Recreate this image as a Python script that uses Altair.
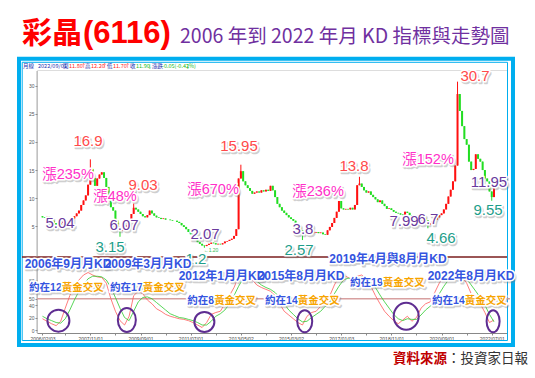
import altair as alt
import pandas as pd

# ---------------- data ----------------
# monthly closes, 2006-02 ... 2022-09 (index 0 .. 199)
close = [
    6.6, 6.5, 6.7, 6.3, 6.0, 5.6, 5.3, 5.3, 5.6, 5.8, 5.7,                 # 2006 Feb-Dec
    5.9, 6.1, 6.4, 6.8, 7.3, 7.8, 8.8, 9.6, 10.5, 12.4, 15.2, 13.6,        # 2007
    12.2, 13.5, 14.2, 14.6, 13.6, 12.0, 10.0, 8.4, 7.8, 6.0, 4.6, 4.2,     # 2008
    4.3, 4.8, 5.2, 6.1, 7.2, 8.3, 8.0, 7.6, 7.2, 6.8, 6.6, 7.0,            # 2009
    7.8, 7.3, 6.9, 6.6, 6.5, 6.3, 6.4, 6.2, 6.2, 6.1, 6.0, 6.0,            # 2010
    5.8, 5.6, 5.2, 4.9, 4.5, 4.0, 3.6, 3.2, 2.8, 2.2, 1.9, 1.6,            # 2011
    1.5, 1.7, 1.9, 2.1, 2.0, 1.8, 1.9, 1.8, 2.0, 2.3, 2.4, 2.6,            # 2012
    2.8, 3.3, 4.5, 13.5, 14.8, 13.0, 12.3, 11.8, 11.3, 10.8, 11.0, 11.2,   # 2013
    11.0, 11.4, 11.2, 11.5, 11.3, 12.2, 11.4, 10.2, 9.0, 8.4, 7.8, 7.4,    # 2014
    7.0, 6.6, 6.3, 6.0, 5.5, 4.9, 4.3, 3.6, 3.8, 3.9, 4.0, 3.8,            # 2015
    3.9, 4.0, 3.8, 3.9, 3.6, 3.5, 4.3, 4.9, 5.6, 6.5, 7.6, 9.5,            # 2016
    8.2, 8.0, 8.1, 8.0, 8.3, 8.0, 8.8, 12.3, 12.6, 12.0, 11.4, 11.0,       # 2017
    11.2, 10.6, 10.2, 9.8, 9.3, 9.6, 9.0, 8.6, 8.1, 8.2, 7.9, 7.6,         # 2018
    7.4, 7.3, 7.1, 7.0, 7.6, 7.4, 7.0, 6.8, 6.9, 7.0, 6.8, 6.6,            # 2019
    6.5, 6.1, 5.3, 5.6, 5.9, 6.2, 6.6, 7.0, 7.3, 8.0, 9.0, 10.3,           # 2020
    11.5, 13.0, 15.8, 28.5, 25.5, 22.8, 20.5, 19.5, 16.5, 15.0, 15.2, 17.8,  # 2021
    17.0, 16.5, 15.0, 13.5, 13.0, 11.2, 10.2, 11.95, 11.9,                 # 2022 Jan-Sep
]
first_open = 6.8
high_marks = {21: 16.9, 40: 9.03, 87: 15.95, 139: 13.8, 182: 30.7}
low_marks = {7: 5.04, 34: 3.15, 71: 1.2, 114: 2.57, 169: 4.66, 197: 9.55}

# monthly KD (K red, D green), every second month
kd_month = list(range(0, 200, 2))
k_vals = [18, 14, 10, 7, 14, 35, 55, 72, 80, 88,
          92, 88, 85, 84, 75, 50, 30, 15, 8, 22,
          55, 62, 58, 48, 42, 34, 30, 25, 22, 20,
          18, 17, 15, 12, 8, 4, 12, 25, 28, 30,
          42, 55, 68, 85, 92, 88, 80, 72, 68, 65,
          62, 55, 42, 30, 24, 18, 12, 8, 22, 28,
          30, 38, 45, 55, 72, 85, 88, 84, 80, 86,
          88, 82, 70, 55, 42, 30, 22, 15, 10, 16,
          22, 14, 20, 35, 42, 45, 60, 75, 85, 90,
          92, 95, 85, 75, 58, 50, 42, 28, 12, 16]
d_vals = [22, 18, 15, 12, 11, 18, 32, 48, 62, 72,
          82, 86, 86, 85, 80, 68, 52, 35, 20, 15,
          30, 45, 52, 53, 50, 44, 38, 32, 26, 23,
          20, 19, 17, 15, 12, 8, 8, 14, 22, 26,
          32, 42, 55, 70, 82, 86, 84, 78, 72, 68,
          65, 60, 52, 42, 32, 25, 18, 13, 14, 20,
          25, 30, 38, 45, 58, 70, 80, 83, 82, 82,
          85, 84, 78, 68, 56, 45, 35, 25, 18, 15,
          18, 17, 17, 24, 32, 38, 45, 58, 70, 80,
          86, 90, 88, 82, 72, 62, 52, 40, 25, 13]

tick_months = [0, 10, 21, 32, 43, 54, 65, 76, 87, 98, 109, 120, 131, 142,
               153, 164, 175, 186, 197]
tick_labels = ["2006/02/03", "2006/12/01", "2007/11/01", "2008/10/01", "2009/09/01",
               "2010/08/02", "2011/07/01", "2012/06/01", "2013/05/02", "2014/04/01",
               "2015/03/02", "2016/02/01", "2017/01/03", "2017/12/01", "2018/11/01",
               "2019/10/01", "2020/09/01", "2021/08/02", "2022/07/01"]
price_ticks = [5, 10, 15, 20, 25, 30]
kd_ticks = [0, 20, 40, 50, 80]

# golden-cross circles: month, KD level, width, height
cross_marks = [(7, 15, 22, 22), (37, 16, 18, 24), (71, 13, 20, 20),
               (115, 14, 15, 22), (159.5, 22, 25, 27), (197.6, 14, 13, 22)]

# ---------------- layout ----------------
OX, OY = 37, 70
W, H = 470, 263
RED_UP = "#FF1010"
GREEN_DN = "#22DD22"
C_RED = "#FF4A4A"
C_PUR = "#6A3A9E"
C_TEAL = "#1E9E8A"
C_PINK = "#FF30C8"
C_BLUE = "#3454E0"
C_ORANGE = "#F7A400"
FRAME = "#00AEEF"

NUMF = "Liberation Sans Narrow, Liberation Sans, Noto Sans CJK TC"
CJKF = "Noto Sans CJK TC"

xs = alt.Scale(domain=[-0.2, 201.5], nice=False, zero=False)
ps = alt.Scale(domain=[-13.94, 32.77], nice=False, zero=False)
ks = alt.Scale(domain=[-4.8, 416], nice=False, zero=False)

label_expr = ("[" + ",".join("'%s'" % s for s in tick_labels) + "][indexof(["
              + ",".join(str(m) for m in tick_months) + "], datum.value)]")
x_axis = alt.Axis(values=tick_months, labelExpr=label_expr, labelFontSize=5,
                  labelColor="#444", tickSize=2, tickColor="#888", domainColor="#888",
                  labelPadding=1, grid=False, title=None, labelAngle=0,
                  labelFont="Liberation Sans")
p_axis = alt.Axis(values=price_ticks, orient="left", domain=False, grid=False,
                  tickSize=2, tickColor="#888", labelFontSize=5, labelColor="#555",
                  labelPadding=1, title=None)
k_axis = alt.Axis(values=kd_ticks, orient="left", domain=False, grid=False,
                  tickSize=2, tickColor="#888", labelFontSize=5, labelColor="#555",
                  labelPadding=1, title=None)

# ---------------- candles ----------------
opens = [first_open] + close[:-1]
rows = []
for i, (o, c) in enumerate(zip(opens, close)):
    rows.append(dict(i=i, o=o, c=c,
                     h=high_marks.get(i, max(o, c)),
                     l=low_marks.get(i, min(o, c)),
                     col=RED_UP if c >= o else GREEN_DN))
cdf = pd.DataFrame(rows)

wick = alt.Chart(cdf).mark_rule(strokeWidth=1).encode(
    x=alt.X("i:Q", scale=xs, axis=x_axis),
    y=alt.Y("l:Q", scale=ps, axis=p_axis),
    y2="h:Q",
    color=alt.Color("col:N", scale=None))
body = alt.Chart(cdf).mark_bar(size=2).encode(
    x=alt.X("i:Q", scale=xs, axis=x_axis),
    y=alt.Y("o:Q", scale=ps, axis=p_axis),
    y2="c:Q",
    color=alt.Color("col:N", scale=None))
price = alt.layer(wick, body)

# ---------------- KD ----------------
kdf = pd.DataFrame({"i": kd_month, "K": k_vals, "D": d_vals})
one = pd.DataFrame({"a": [0]})
mid = alt.Chart(one).mark_rule(color="#D8A0A0", strokeWidth=1.6).encode(
    y=alt.Y(datum=50, scale=ks, axis=k_axis), x=alt.value(0), x2=alt.value(W + 3))
kline = alt.Chart(kdf).mark_line(color="#FF5A5A", strokeWidth=0.8).encode(
    x=alt.X("i:Q", scale=xs, axis=x_axis), y=alt.Y("K:Q", scale=ks, axis=k_axis))
dline = alt.Chart(kdf).mark_line(color="#2FCB2F", strokeWidth=0.8).encode(
    x=alt.X("i:Q", scale=xs, axis=x_axis), y=alt.Y("D:Q", scale=ks, axis=k_axis))
ellipses = []
for (m, v, w, h) in cross_marks:
    rx, ry = w / 2, h / 2
    path = f"M {-rx} 0 A {rx} {ry} 0 1 1 {rx} 0 A {rx} {ry} 0 1 1 {-rx} 0 Z"
    ellipses.append(
        alt.Chart(pd.DataFrame({"i": [m], "v": [v]})).mark_point(
            shape=path, size=4, filled=False, color="#5E2D91", strokeWidth=2,
            opacity=1).encode(
            x=alt.X("i:Q", scale=xs, axis=x_axis),
            y=alt.Y("v:Q", scale=ks, axis=k_axis)))
kd = alt.layer(mid, kline, dline, *ellipses)

# ---------------- decorations (pixel positions of the page) ----------------
def rel_x(v):
    return v - OX

def rel_y(v):
    return v - OY

def box(x0, y0, x1, y1, color, sw):
    return alt.Chart(one).mark_rect(fill=None, stroke=color, strokeWidth=sw).encode(
        x=alt.value(rel_x(x0)), x2=alt.value(rel_x(x1)),
        y=alt.value(rel_y(y0)), y2=alt.value(rel_y(y1)))

def hline(x0, x1, y, color, sw):
    return alt.Chart(one).mark_rule(color=color, strokeWidth=sw).encode(
        x=alt.value(rel_x(x0)), x2=alt.value(rel_x(x1)), y=alt.value(rel_y(y)))

def vline(x, y0, y1, color, sw):
    return alt.Chart(one).mark_rule(color=color, strokeWidth=sw).encode(
        x=alt.value(rel_x(x)), y=alt.value(rel_y(y0)), y2=alt.value(rel_y(y1)))

deco = [
    box(19, 58.7, 513, 345, FRAME, 4),
    box(22.2, 62.3, 507.5, 340.5, FRAME, 1),
    hline(22, 507, 257, "#7A1E1E", 1.3),
    vline(37, 71, 257, "#999", 0.8),
    vline(37, 259, 333, "#999", 0.8),
]

def tdf(items):
    return pd.DataFrame([dict(t=t, px=rel_x(x), py=rel_y(y), col=c) for (t, x, y, c) in items])

def tlayers(df, font, size, weight="normal", align="center", baseline="middle", halo=True):
    base = alt.Chart(df).encode(
        x=alt.X("px:Q", scale=None, axis=None),
        y=alt.Y("py:Q", scale=None, axis=None),
        text="t:N")
    kw = dict(font=font, fontSize=size, fontWeight=weight, align=align, baseline=baseline)
    out = []
    if halo:
        out.append(base.mark_text(dx=1.3, dy=1.6, fill="#777", stroke="#777",
                                  strokeWidth=2.6, opacity=0.35, strokeJoin="round", **kw))
        out.append(base.mark_text(fill="white", stroke="white", strokeWidth=3.2,
                                  strokeJoin="round", **kw))
    out.append(base.mark_text(**kw).encode(color=alt.Color("col:N", scale=None)))
    return out

value_items = [
    ("16.9", 88, 141, C_RED), ("9.03", 143, 185, C_RED), ("15.95", 239, 146, C_RED),
    ("13.8", 354, 166, C_RED), ("30.7", 475, 76, C_RED),
    ("5.04", 60, 223, C_PUR), ("6.07", 124, 225, C_PUR), ("2.07", 205, 234, C_PUR),
    ("3.8", 303, 229, C_PUR), ("7.99", 404, 221, C_PUR), ("6.7", 428, 219, C_PUR),
    ("11.95", 489, 182, C_PUR),
    ("3.15", 110, 247, C_TEAL), ("1.2", 196, 259, C_TEAL), ("2.57", 299, 250, C_TEAL),
    ("4.66", 441, 238, C_TEAL), ("9.55", 488, 210, C_TEAL),
]
rise_items = [
    ("漲235%", 68, 175, C_PINK), ("漲48%", 115, 197, C_PINK), ("漲670%", 213, 190, C_PINK),
    ("漲236%", 318, 192, C_PINK), ("漲152%", 428, 160, C_PINK),
]
kd_items = [
    ("2006年9月月KD", 68, 264, C_BLUE), ("2009年3月月KD", 148, 264, C_BLUE),
    ("2012年1月月KD", 222, 276, C_BLUE), ("2015年8月月KD", 301, 276, C_BLUE),
    ("2019年4月與8月月KD", 388, 259, C_BLUE), ("2022年8月月KD", 471, 276, C_BLUE),
]
cross_items = [("12", 67, 288), ("17", 148, 288), ("8", 222, 301),
               ("14", 303, 301), ("19", 388, 283), ("14", 470, 301)]
CS = 10.5
left_parts, right_parts = [], []
for n, cx, cy in cross_items:
    w1 = 2 * CS + len(n) * 0.5 * CS
    total = w1 + 4 * CS
    split = cx - total / 2 + w1
    left_parts.append(("約在" + n, split, cy, C_BLUE))
    right_parts.append(("黃金交叉", split, cy, C_ORANGE))

ann = []
ann += tlayers(tdf(value_items), NUMF, 15)
ann += tlayers(tdf(rise_items), NUMF, 14.5)
ann += tlayers(tdf(kd_items), NUMF, 12, weight="bold")
ann += tlayers(tdf(left_parts), NUMF, CS, weight="bold", align="right")
ann += tlayers(tdf(right_parts), CJKF, CS, weight="bold", align="left")
ann += tlayers(tdf([("←1.20", 211, 250, "#33BB55")]), "Liberation Sans", 5, halo=False)

# title & source
ann += tlayers(tdf([("彩晶", 22, 43, "#FF0000")]), CJKF, 30, weight="bold",
               align="left", baseline="alphabetic", halo=False)
ann += tlayers(tdf([("(6116)", 83, 43, "#FF0000")]), "Liberation Sans, Noto Sans CJK TC", 31,
               weight="bold", align="left", baseline="alphabetic", halo=False)
ann += tlayers(tdf([("2006 年到 2022 年月 KD 指標與走勢圖", 180, 43, "#7030A0")]), CJKF, 19.5,
               align="left", baseline="alphabetic", halo=False)
ann += tlayers(tdf([("資料來源", 447, 359, "#C00000")]), CJKF, 13.5, weight="bold",
               align="right", halo=False)
ann += tlayers(tdf([("：投資家日報", 447, 359, "#333333")]), CJKF, 13.5,
               align="left", halo=False)

# tiny quote line at the top of the panel
info_items = [
    ("月線", 23, 65.5, "#1A2FB0"), ("2022/09/01", 38, 65.5, "#1A2FB0"), ("開", 63, 65.5, "#1A2FB0"),
    ("11.80", 69, 65.5, "#FF2020"), ("↑", 81, 65.5, "#FF2020"), ("高", 85, 65.5, "#1A2FB0"),
    ("12.20", 91, 65.5, "#FF2020"), ("↑", 102, 65.5, "#FF2020"), ("低", 107, 65.5, "#1A2FB0"),
    ("11.70", 113, 65.5, "#FF2020"), ("↑", 125, 65.5, "#FF2020"), ("收", 130, 65.5, "#1A2FB0"),
    ("11.90", 136, 65.5, "#22BB22"), ("↓", 147, 65.5, "#22BB22"), ("漲跌", 152, 65.5, "#1A2FB0"),
    ("-0.05(-0.42%)", 162, 65.5, "#22BB22"), ("↓", 185, 65.5, "#22BB22"),
]
ann += tlayers(tdf(info_items), "Liberation Sans Narrow, Noto Sans CJK TC", 5.5,
               align="left", halo=False)

chart = alt.layer(*deco, price, kd, *ann).resolve_scale(y="independent").properties(
    width=W, height=H,
    autosize=alt.AutoSizeParams(type="none"),
    padding={"left": OX, "top": OY, "right": 535 - OX - W, "bottom": 378 - OY - H},
).configure_view(stroke=None).configure(background="white")

chart.save("out.html", embed_options={"renderer": "svg", "actions": False})
